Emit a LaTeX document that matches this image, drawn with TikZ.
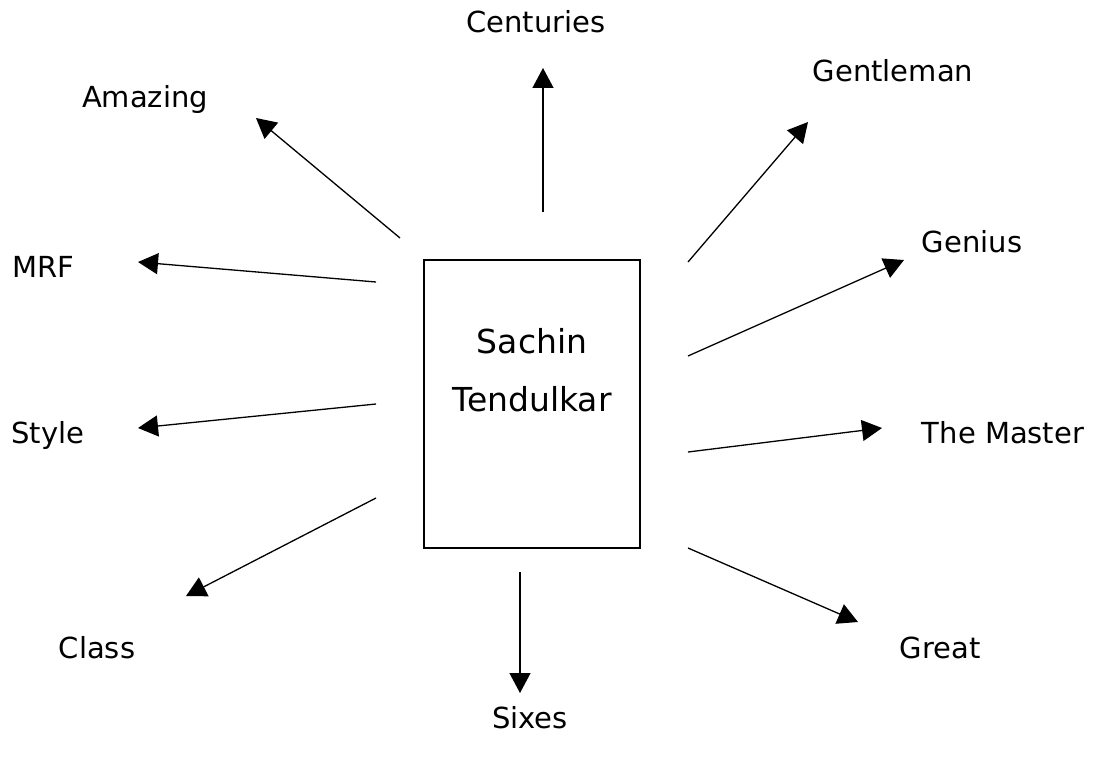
\documentclass[tikz,border=0pt]{standalone}
\usepackage{fontspec}
\setmainfont{DejaVu Sans}
\usepackage{tikz}
\usetikzlibrary{arrows.meta}

\begin{document}
\begin{tikzpicture}[x=1pt,y=-1pt,font=\fontsize{29}{34}\selectfont]
  \useasboundingbox (0,0) rectangle (1094,757);
  \node[draw,line width=1.8pt,minimum width=216pt,minimum height=288pt,align=center,
        text depth=68pt,font=\fontsize{33}{58}\selectfont] (st) at (532,404) {Sachin\\Tendulkar};
  % words round the box
  \foreach \n/\lab/\x/\y in {cent/Centuries/536/33, amaz/Amazing/145/108, gent/Gentleman/893/82,
      mrf/MRF/43/277, geni/Genius/972/252, styl/Style/48/443, mast/The Master/1003/443,
      clas/Class/97/658, sixe/Sixes/530/728, grea/Great/940/658}{
    \node[anchor=base,inner sep=0pt] (\n) at (\x,\y) {\lab};
  }
  % arrows, free at both ends
  \foreach \n/\sx/\sy/\ex/\ey in {cent/543/212/543/68, amaz/400/238/256/118, gent/688/262/808/122,
      mrf/376/282/138/262, geni/688/356/904/260, styl/376/404/138/428, mast/688/452/882/428,
      clas/376/498/186/596, sixe/520/572/520/693, grea/688/548/858/622}{
    \coordinate (\n-s) at (\sx,\sy);
    \coordinate (\n-e) at (\ex,\ey);
    \draw[-{Triangle[length=20pt,width=21pt]},line width=1.3pt] (\n-s)--(\n-e);
  }
\end{tikzpicture}
\end{document}
